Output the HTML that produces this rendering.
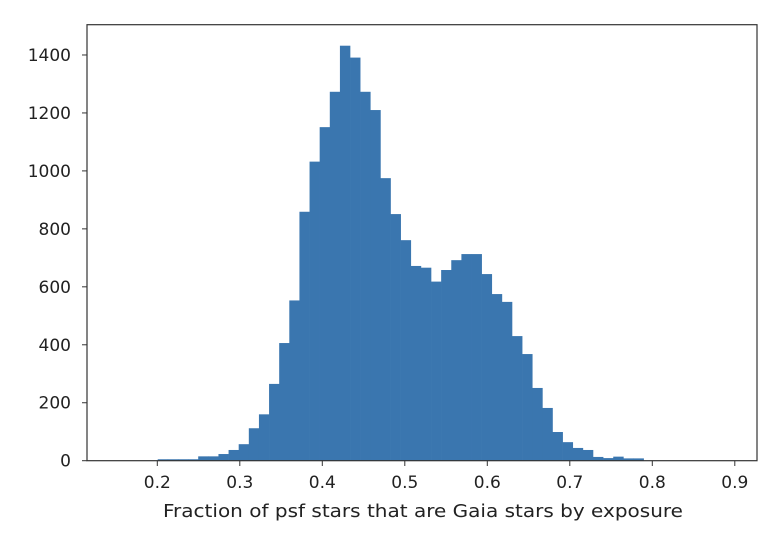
<!DOCTYPE html>
<html><head><meta charset="utf-8"><style>
body{margin:0;background:#fff;}
svg text{font-family:"DejaVu Sans","Liberation Sans",sans-serif;font-size:17px;fill:#222;}
</style></head><body>
<svg id="chart" width="778" height="538" xmlns="http://www.w3.org/2000/svg">
<g id="bars"></g>
<rect x="87" y="24.7" width="670" height="436" fill="none" stroke="#333" stroke-width="1.2"/>
<g id="xaxis"></g>
<g id="yaxis"></g>
<text x="163" y="517" textLength="520" lengthAdjust="spacingAndGlyphs" style="font-size:18px">Fraction of psf stars that are Gaia stars by exposure</text>
</svg>
<script>
const counts = [5,5,5,5,15,15,23,37,57,112,160,265,406,553,859,1032,1151,1273,1432,1391,1273,1210,975,851,761,672,666,618,658,692,713,713,644,575,548,430,368,251,182,99,64,44,37,13,9,14,8,8];
const binStart = 0.2005;
const binWidth = 0.01227;
const xTicks = [0.2,0.3,0.4,0.5,0.6,0.7,0.8,0.9];
const yTicks = [0,200,400,600,800,1000,1200,1400];
const NS = "http://www.w3.org/2000/svg";
function xs(v){return 157.3 + (v-0.2)*825;}
function ys(c){return 460.7 - c*0.2898;}
const bars = document.getElementById('bars');
counts.forEach((c,i)=>{
  const x0 = xs(binStart+i*binWidth), x1 = xs(binStart+(i+1)*binWidth);
  const r = document.createElementNS(NS,'rect');
  
  
  r.setAttribute('x',x0); r.setAttribute('width',x1-x0+0.3);
  r.setAttribute('y',ys(c)); r.setAttribute('height',ys(0)-ys(c));
  r.setAttribute('fill','#3a76af');
  bars.appendChild(r);
});
const xa = document.getElementById('xaxis');
xTicks.forEach(v=>{
  const l = document.createElementNS(NS,'line');
  
  
  l.setAttribute('x1',xs(v)); l.setAttribute('x2',xs(v));
  l.setAttribute('y1',460.7); l.setAttribute('y2',466);
  l.setAttribute('stroke','#333'); xa.appendChild(l);
  const t = document.createElementNS(NS,'text');
  
  
  t.setAttribute('x',xs(v)); t.setAttribute('y',488); t.setAttribute('text-anchor','middle');
  t.textContent = v.toFixed(1); xa.appendChild(t);
});
const ya = document.getElementById('yaxis');
yTicks.forEach(v=>{
  const l = document.createElementNS(NS,'line');
  
  
  l.setAttribute('x1',82); l.setAttribute('x2',87);
  l.setAttribute('y1',ys(v)); l.setAttribute('y2',ys(v));
  l.setAttribute('stroke','#333'); ya.appendChild(l);
  const t = document.createElementNS(NS,'text');
  
  
  t.setAttribute('x',71); t.setAttribute('y',ys(v)+6); t.setAttribute('text-anchor','end');
  t.textContent = String(v); ya.appendChild(t);
});
</script>
</body></html>
